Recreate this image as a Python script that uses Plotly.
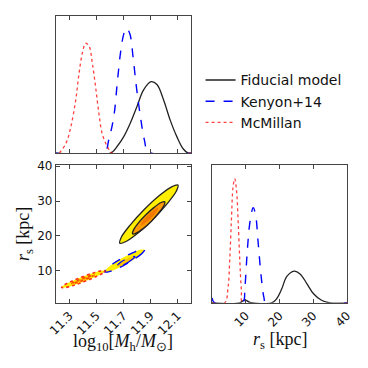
import plotly.graph_objects as go

# top panel: marginal distributions of log10(Mh/Msun)
fid_m_x = [11.20, 11.604, 11.654, 11.702, 11.751, 11.80, 11.849, 11.904, 11.948, 11.996, 12.046, 12.095, 12.143, 12.18, 12.20]
fid_m_y = [0, 0, 0.05, 0.12, 0.22, 0.34, 0.46, 0.52, 0.50, 0.39, 0.24, 0.12, 0.03, 0, 0]
ken_m_x = [11.20, 11.555, 11.592, 11.629, 11.654, 11.678, 11.703, 11.722, 11.747, 11.771, 11.796, 11.825, 11.854, 11.886, 12.20]
ken_m_y = [0, 0, 0.10, 0.27, 0.51, 0.73, 0.87, 0.91, 0.87, 0.70, 0.48, 0.27, 0.10, 0.01, 0]
mcm_m_x = [11.224, 11.274, 11.31, 11.347, 11.371, 11.396, 11.42, 11.445, 11.47, 11.494, 11.518, 11.543, 11.58, 11.617, 12.20]
mcm_m_y = [0, 0.07, 0.19, 0.39, 0.58, 0.73, 0.80, 0.78, 0.65, 0.48, 0.29, 0.14, 0.05, 0, 0]

# right panel: marginal distributions of r_s [kpc]
fid_r_x = [0, 8.24, 9.73, 11.2, 17.67, 19.16, 20.65, 22.13, 24.32, 26.1, 28.09, 30.08, 32.56, 35.04, 40]
fid_r_y = [0, 0, 0.022, 0.004, 0, 0.03, 0.10, 0.19, 0.23, 0.21, 0.14, 0.066, 0.017, 0, 0]
ken_r_x = [0, 0.8, 9.03, 9.73, 10.42, 11.22, 12.21, 12.9, 13.7, 14.5, 15.38, 15.98, 40]
ken_r_y = [0.036, 0, 0, 0.11, 0.36, 0.58, 0.69, 0.64, 0.43, 0.21, 0.04, 0, 0]
mcm_r_x = [0, 3.77, 4.76, 5.26, 5.76, 6.25, 6.75, 7.25, 7.74, 8.24, 8.73, 9.23, 40]
mcm_r_y = [0, 0, 0.11, 0.31, 0.60, 0.84, 0.90, 0.82, 0.60, 0.31, 0.09, 0, 0]

# joint contours (outer = 95%, inner = 68%)
fid_outer_x = [12.103, 12.091, 12.024, 11.922, 11.810, 11.719, 11.673, 11.685, 11.751, 11.854, 11.966, 12.057]
fid_outer_y = [34.6, 32.8, 29.3, 24.9, 20.9, 18.4, 17.9, 19.7, 23.2, 27.6, 31.6, 34.1]
fid_inner_x = [12.006, 12.001, 11.965, 11.909, 11.846, 11.794, 11.767, 11.773, 11.808, 11.864, 11.927, 11.979]
fid_inner_y = [29.8, 28.8, 26.8, 24.3, 22.1, 20.8, 20.6, 21.6, 23.6, 26.0, 28.2, 29.6]
fid_core_x = [11.955, 11.933, 11.870, 11.830, 11.852, 11.915]
fid_core_y = [28.0, 26.4, 24.0, 23.1, 24.7, 27.1]
ken_outer_x = [11.856, 11.842, 11.793, 11.722, 11.647, 11.589, 11.563, 11.576, 11.625, 11.697, 11.771, 11.830]
ken_outer_y = [16.0, 15.2, 13.7, 12.0, 10.5, 9.7, 9.7, 10.6, 12.1, 13.8, 15.2, 16.1]
ken_inner_x = [11.785, 11.757, 11.689, 11.649, 11.677, 11.745]
ken_inner_y = [14.1, 13.0, 11.5, 11.2, 12.4, 13.8]
mcm_outer_x = [11.563, 11.545, 11.489, 11.409, 11.328, 11.267, 11.242, 11.260, 11.317, 11.396, 11.477, 11.538]
mcm_outer_y = [10.0, 9.3, 8.2, 6.9, 5.8, 5.2, 5.2, 5.9, 7.0, 8.3, 9.4, 10.0]
mcm_inner_x = [11.483, 11.444, 11.361, 11.317, 11.356, 11.439]
mcm_inner_y = [8.8, 7.9, 6.7, 6.3, 7.2, 8.4]

mass_ticks = [11.3, 11.5, 11.7, 11.9, 12.1]
mass_labels = ["11.3", "11.5", "11.7", "11.9", "12.1"]
rs_ticks = [10, 20, 30, 40]

BLACK = "#222222"
BLUE = "#0000ff"
RED = "rgba(255,0,0,0.75)"
YELLOW = "#ffee00"
ORANGE = "#ff9a00"
DARK_ORANGE = "#f07a00"

fig = go.Figure()

names = ["Fiducial model", "Kenyon+14", "McMillan"]
styles = [dict(color=BLACK, width=1.3, dash="solid"),
          dict(color=BLUE, width=1.4, dash="dash"),
          dict(color=RED, width=1.3, dash="dot")]

for name, st, xs, ys in zip(names, styles, [fid_m_x, ken_m_x, mcm_m_x], [fid_m_y, ken_m_y, mcm_m_y]):
    fig.add_trace(go.Scatter(x=xs, y=ys, mode="lines", line=dict(shape="spline", **st),
                             name=name, xaxis="x", yaxis="y"))

for st, xs, ys in zip(styles, [fid_r_x, ken_r_x, mcm_r_x], [fid_r_y, ken_r_y, mcm_r_y]):
    fig.add_trace(go.Scatter(x=xs, y=ys, mode="lines", line=dict(shape="spline", **st),
                             showlegend=False, xaxis="x3", yaxis="y3"))


def closed(v):
    return list(v) + [v[0]]


contours = [
    (fid_outer_x, fid_outer_y, YELLOW, styles[0]),
    (fid_inner_x, fid_inner_y, ORANGE, styles[0]),
    (fid_core_x, fid_core_y, DARK_ORANGE, dict(color=DARK_ORANGE, width=0.5)),
    (ken_outer_x, ken_outer_y, YELLOW, styles[1]),
    (ken_inner_x, ken_inner_y, "#ffc400", dict(color=BLUE, width=1.2, dash="dash")),
    (mcm_outer_x, mcm_outer_y, YELLOW, dict(color="rgba(255,0,0,0.8)", width=1.6, dash="dot")),
    (mcm_inner_x, mcm_inner_y, ORANGE, dict(color="rgba(255,40,0,0.8)", width=1.6, dash="dot")),
]
for xs, ys, fc, ln in contours:
    fig.add_trace(go.Scatter(x=closed(xs), y=closed(ys), mode="lines", fill="toself", fillcolor=fc,
                             line=dict(shape="spline", **ln), showlegend=False, xaxis="x2", yaxis="y2"))

frame = dict(showline=True, linecolor="#444444", linewidth=1.2, mirror=True, showgrid=False,
             zeroline=False, ticks="inside", ticklen=4, tickcolor="#444444", automargin=False)
tickfont = dict(family="DejaVu Sans", size=12, color="#111111")
titlefont = dict(family="Liberation Serif", size=18, color="#111111")

fig.update_layout(
    width=368, height=368, margin=dict(l=0, r=0, t=0, b=0),
    paper_bgcolor="white", plot_bgcolor="white",
    xaxis=dict(domain=[0.152, 0.519], anchor="y", range=[11.2, 12.2], tickvals=mass_ticks,
               showticklabels=False, **{**frame, "mirror": "ticks"}),
    yaxis=dict(domain=[0.584, 0.957], anchor="x", range=[0, 1.0], showticklabels=False,
               **{**frame, "ticks": ""}),
    xaxis2=dict(domain=[0.152, 0.519], anchor="y2", range=[11.2, 12.2], tickvals=mass_ticks,
                ticktext=mass_labels, tickangle=-45, tickfont=tickfont,
                **{**frame, "mirror": "ticks"}),
    yaxis2=dict(domain=[0.177, 0.552], anchor="x2", range=[0.8, 40.4], tickvals=[10, 20, 30, 40],
                tickfont=tickfont,
                title=dict(text="<i>r</i><sub>s</sub> [kpc]", font=titlefont, standoff=2),
                **{**frame, "mirror": "ticks"}),
    xaxis3=dict(domain=[0.576, 0.943], anchor="y3", range=[0, 40], tickvals=rs_ticks,
                tickangle=-45, tickfont=tickfont,
                **{**frame, "mirror": "ticks"}),
    yaxis3=dict(domain=[0.177, 0.552], anchor="x3", range=[0, 1.0], showticklabels=False,
                **{**frame, "ticks": ""}),
    legend=dict(x=0.545, y=0.825, xanchor="left", yanchor="top", bgcolor="rgba(0,0,0,0)",
                font=dict(family="DejaVu Sans", size=14, color="#111111"), tracegroupgap=0,
                itemwidth=30),
)

# x-axis titles placed as annotations so they sit tight under the rotated tick labels
fig.add_annotation(text="log<sub>10</sub>[<i>M</i><sub>h</sub>/<i>M</i><sub>⊙</sub>]",
                   xref="paper", yref="paper", x=0.335, y=0.068, xanchor="center", yanchor="middle",
                   showarrow=False, font=titlefont)
fig.add_annotation(text="<i>r</i><sub>s</sub> [kpc]",
                   xref="paper", yref="paper", x=0.76, y=0.075, xanchor="center", yanchor="middle",
                   showarrow=False, font=titlefont)

# the page body has a default 8px margin; drop it so the figure sits at the window's corner
fig.write_html("out.html", config={"displayModeBar": False},
               post_script="document.body.style.margin='0';")
